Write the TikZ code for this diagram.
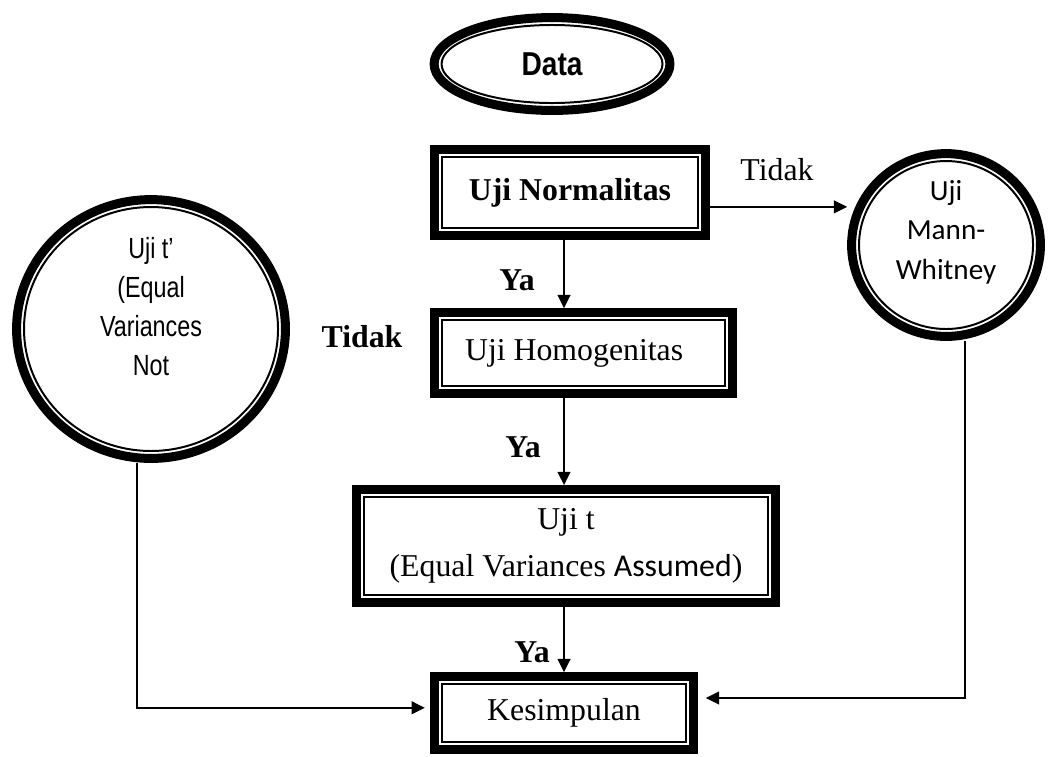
\documentclass[tikz,border=0pt]{standalone}
\usepackage{fontspec}
\usepackage{tikz}
\usetikzlibrary{calc,arrows.meta,shapes.geometric}
\setmainfont{Liberation Serif}
\newfontfamily\arialdata{Liberation Sans}[FakeStretch=0.85]
\newfontfamily\arialnarrow{Liberation Sans}[FakeStretch=0.8]
\newfontfamily\calibri{Carlito}

\begin{document}
\begin{tikzpicture}[
  procbox/.style={draw, line width=0.75pt, inner sep=0pt, outer sep=4.5pt, align=center, font=\fontsize{12}{18}\selectfont},
  testcirc/.style={draw, ellipse, line width=0.75pt, inner sep=0pt, outer sep=4.5pt},
  thickframe/.style={line width=3.4pt},
  conn/.style={line width=0.8pt, -{Triangle[length=5pt,width=4.8pt]}},
  lbl/.style={font=\fontsize{12}{14}\selectfont\bfseries}
]
\useasboundingbox (0,0) rectangle (13.967,10.028);

% Start
\node[testcirc, minimum width=2.931cm, minimum height=1.035cm, font=\arialdata\fontsize{12.5}{15}\selectfont\bfseries] (data) at (7.322,9.179) {Data};

% Main column
\node[procbox, minimum width=3.396cm, minimum height=0.942cm, font=\fontsize{12}{14}\selectfont\bfseries] (norm) at (7.560,7.474) {Uji Normalitas};
\node[procbox, minimum width=3.754cm, minimum height=0.875cm] (homo) at (7.740,5.345) {Uji Homogenitas\hspace*{0.25cm}};
\node[procbox, minimum width=5.359cm, minimum height=1.300cm] (ujit) at (7.507,2.786) {Uji t\\(Equal Variances {\calibri Assumed})};
\node[procbox, minimum width=3.236cm, minimum height=0.769cm] (kes) at (7.481,0.570) {Kesimpulan};

% Side tests
\node[testcirc, minimum width=3.369cm, minimum height=3.236cm] (ujitp) at (2.003,5.664) {};
\node[font=\arialnarrow\fontsize{11}{14.7}\selectfont, align=center] (ujitp-txt) at ([yshift=0.3cm]ujitp.center) {Uji t’\\(Equal\\Variances\\Not};
\node[testcirc, minimum width=2.308cm, minimum height=2.228cm] (mannw) at (12.548,6.778) {};
\node[font=\calibri\fontsize{11}{15}\selectfont, align=center] (mannw-txt) at ([yshift=0.17cm]mannw.center) {Uji\\Mann-\\Whitney};

% Thick outer borders
\foreach \nm in {norm,homo,ujit,kes}
  \draw[thickframe] ([shift={(1.7pt,1.7pt)}]\nm.south west) rectangle ([shift={(-1.7pt,-1.7pt)}]\nm.north east);
\foreach \nm in {data,ujitp,mannw}
  \draw[thickframe] let \p1=($(\nm.east)-(\nm.center)$), \p2=($(\nm.north)-(\nm.center)$) in
    (\nm.center) ellipse [x radius={\x1-1.7pt}, y radius={\y2-1.7pt}];

% Connectors
\draw[conn] (norm.south -| kes) -- (homo.north -| kes);
\draw[conn] (homo.south -| kes) -- (ujit.north -| kes);
\draw[conn] (ujit.south -| kes) -- (kes.north);
\draw[conn] ([yshift=-0.19cm]norm.east) -- ([yshift=-0.19cm]norm.east -| mannw.west);
\draw[conn, shorten >=3pt] ([xshift=0.25cm]mannw.south) |- ([yshift=0.2cm]kes.east);
\draw[conn, shorten >=2pt] ([xshift=-0.19cm]ujitp.south) |- ([yshift=0.07cm]kes.west);

% Labels
\node[font=\fontsize{12}{14}\selectfont] (tidak1) at (10.306,7.773) {Tidak};
\node[lbl] (tidak2) at (4.802,5.558) {Tidak};
\node[lbl] (ya1) at (6.858,6.314) {Ya};
\node[lbl] (ya2) at (6.937,4.099) {Ya};
\node[lbl] (ya3) at (7.056,1.379) {Ya};
\end{tikzpicture}
\end{document}
